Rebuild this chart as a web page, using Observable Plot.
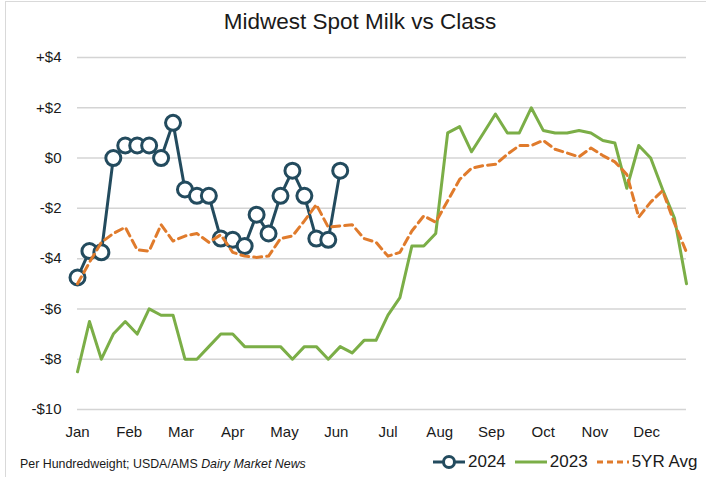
<!DOCTYPE html>
<html>
<head>
<meta charset="utf-8">
<script src="https://cdn.jsdelivr.net/npm/d3@7"></script>
<script src="https://cdn.jsdelivr.net/npm/@observablehq/plot@0.6"></script>
<style>
  html, body { margin: 0; padding: 0; background: #fff; }
  #wrap { position: relative; width: 706px; height: 477px; overflow: hidden; font-family: "Liberation Sans", Arial, sans-serif; color: #1a1a1a; }
  #frame { position: absolute; left: 5px; top: 1px; width: 720px; height: 490px; border: 1px solid #d9d9d9; box-sizing: border-box; }
  #title { position: absolute; left: 0; top: 9px; width: 720px; text-align: center; font-size: 22.5px; }
  #chart { position: absolute; left: 0; top: 45px; }
  #caption { position: absolute; left: 20px; top: 457px; font-size: 12.4px; white-space: nowrap; }
  #legend { position: absolute; left: 432px; top: 452px; font-size: 17px; white-space: nowrap; display: flex; align-items: center; }
  #legend .item { display: flex; align-items: center; margin-right: 8px; }
  #legend svg { margin-right: 2px; }
</style>
</head>
<body>
<div id="wrap">
  <div id="frame"></div>
  <div id="title">Midwest Spot Milk vs Class</div>
  <div id="chart"></div>
  <div id="caption">Per Hundredweight; USDA/AMS <i>Dairy Market News</i></div>
  <div id="legend"></div>
</div>
<script>
// ---- data (weekly, week index 0..51) ----
const monthLabels = ["Jan","Feb","Mar","Apr","May","Jun","Jul","Aug","Sep","Oct","Nov","Dec"];
const yTickValues = [-10, -8, -6, -4, -2, 0, 2, 4];
const yTickLabels = ["-$10", "-$8", "-$6", "-$4", "-$2", "$0", "+$2", "+$4"];

const spot2024 = [-4.75, -3.7, -3.75, 0, 0.5, 0.5, 0.5, 0, 1.4, -1.25, -1.5, -1.5,
  -3.2, -3.25, -3.5, -2.25, -3.0, -1.5, -0.5, -1.5, -3.2, -3.25, -0.5];

const spot2023 = [-8.5, -6.5, -8.0, -7.0, -6.5, -7.0, -6.0, -6.25, -6.25, -8.0, -8.0, -7.5,
  -7.0, -7.0, -7.5, -7.5, -7.5, -7.5, -8.0, -7.5, -7.5, -8.0, -7.5, -7.75, -7.25, -7.25,
  -6.25, -5.55, -3.5, -3.5, -3.0, 1.0, 1.25, 0.25, 1.0, 1.75, 1.0, 1.0, 2.0, 1.1, 1.0,
  1.0, 1.1, 1.0, 0.7, 0.6, -1.2, 0.5, 0, -1.25, -2.4, -5.0];

const avg5yr = [-5.0, -4.15, -3.35, -3.0, -2.75, -3.65, -3.7, -2.65, -3.3, -3.1, -3.0, -3.35,
  -3.05, -3.75, -3.9, -3.95, -3.9, -3.2, -3.1, -2.5, -1.85, -2.75, -2.7, -2.65, -3.2, -3.35,
  -3.9, -3.75, -2.9, -2.3, -2.55, -1.7, -0.85, -0.4, -0.3, -0.25, 0.15, 0.5, 0.5, 0.7, 0.35,
  0.2, 0.05, 0.4, 0.1, -0.15, -0.65, -2.35, -1.75, -1.3, -2.6, -3.75];

// ---- colours ----
const C2024 = "#234b5e", C2023 = "#7bae47", CAVG = "#e07b2c";

const toRows = (arr) => arr.map((v, i) => ({week: i, value: v}));
const rows2024 = toRows(spot2024), rows2023 = toRows(spot2023), rowsAvg = toRows(avg5yr);
const monthTicks = monthLabels.map((m, i) => i * 52 / 12);

const chart = Plot.plot({
  width: 706, height: 400,
  marginLeft: 77, marginRight: 20, marginTop: 12, marginBottom: 36,
  style: {fontFamily: "'Liberation Sans', Arial, sans-serif", color: "#1a1a1a", background: "transparent"},
  x: {domain: [0, 51], label: null},
  y: {domain: [-10, 4], label: null},
  marks: [
    Plot.gridY(yTickValues, {stroke: "#d4d4d4", strokeOpacity: 1, strokeWidth: 1.5}),
    Plot.axisY(yTickValues, {tickSize: 0, tickPadding: 16, fontSize: 15, label: null,
      tickFormat: (d) => yTickLabels[yTickValues.indexOf(d)]}),
    Plot.axisX(monthTicks, {tickSize: 0, tickPadding: 17, fontSize: 15, label: null,
      tickFormat: (d, i) => monthLabels[i]}),
    Plot.line(rows2024, {x: "week", y: "value", stroke: C2024, strokeWidth: 3}),
    Plot.dot(rows2024, {x: "week", y: "value", r: 7.5, fill: "white", stroke: C2024, strokeWidth: 3}),
    Plot.line(rows2023, {x: "week", y: "value", stroke: C2023, strokeWidth: 3}),
    Plot.line(rowsAvg, {x: "week", y: "value", stroke: CAVG, strokeWidth: 3, strokeDasharray: "8,5"})
  ]
});
document.getElementById("chart").appendChild(chart);

// ---- legend ----
const legendItems = [
  {label: "2024", color: C2024, dash: null, marker: true},
  {label: "2023", color: C2023, dash: null, marker: false},
  {label: "5YR Avg", color: CAVG, dash: "6,4", marker: false}
];
const legend = document.getElementById("legend");
for (const it of legendItems) {
  const d = document.createElement("div");
  d.className = "item";
  d.innerHTML = `<svg width="34" height="16"><line x1="1" x2="33" y1="8" y2="8" stroke="${it.color}" stroke-width="3" ${it.dash ? `stroke-dasharray="${it.dash}"` : ""}/>` +
    (it.marker ? `<circle cx="17" cy="8" r="5.5" fill="white" stroke="${it.color}" stroke-width="3"/>` : "") +
    `</svg><span>${it.label}</span>`;
  legend.appendChild(d);
}
</script>
</body>
</html>
